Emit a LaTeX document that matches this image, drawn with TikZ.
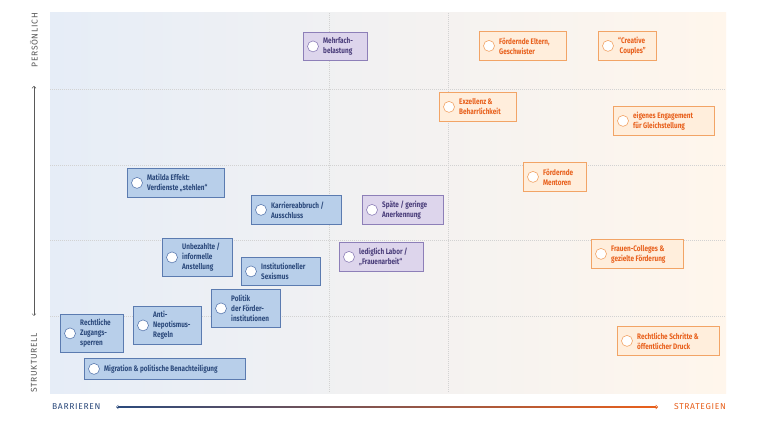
\documentclass[tikz,border=0pt]{standalone}
\usetikzlibrary{arrows.meta}
\usepackage{fontspec}
\setmainfont{Fira Sans}
\newfontfamily\bxfont{Fira Sans}[FakeStretch=0.8]
\newfontfamily\axfont{Fira Sans}[LetterSpace=8]
\begin{document}
\begin{tikzpicture}[x=1pt,y=-1pt,
  lbl/.style={font=\bxfont\bfseries\fontsize{8}{10}\selectfont,align=left,anchor=west,inner sep=0},
  bblue/.style={fill=blueF,draw=blueD,line width=0.8pt},
  bpurp/.style={fill=purpF,draw=purpD,line width=0.8pt},
  borng/.style={fill=orngF,draw=orngD,line width=0.8pt},
  axlbl/.style={font=\axfont\fontsize{8.5}{9}\selectfont,inner sep=0}]
\definecolor{blueF}{HTML}{B8CFEA}\definecolor{blueD}{HTML}{5B7BB0}\definecolor{blueT}{HTML}{2C4A7C}
\definecolor{purpF}{HTML}{DDD5EC}\definecolor{purpD}{HTML}{8D7FB8}\definecolor{purpT}{HTML}{4A3D7A}
\definecolor{orngF}{HTML}{FFEEDC}\definecolor{orngD}{HTML}{F2A466}\definecolor{orngT}{HTML}{E8601C}
\definecolor{bgL}{HTML}{E6EDF7}\definecolor{bgM}{HTML}{F3F2F0}\definecolor{bgR}{HTML}{FFF6EC}
\useasboundingbox (0,0) rectangle (760,427);
\fill[white] (0,0) rectangle (760,427);
\shade[left color=bgL,middle color=bgM,right color=bgR] (50,13) rectangle (726,393);
\foreach \x in {329,448} \draw[gray!35,dash pattern=on 1pt off 1pt,line width=0.5pt] (\x,13) -- (\x,393);
\foreach \y in {89,165,240,316} \draw[gray!35,dash pattern=on 1pt off 1pt,line width=0.5pt] (50,\y) -- (726,\y);
% axes
\node[axlbl,text=blueT,anchor=west] (bar) at (52,407) {BARRIEREN};
\node[axlbl,text=orngT,anchor=east] (str) at (726,407) {STRATEGIEN};
\shade[left color=blueT,right color=orngT] (118,406.7) rectangle (656,407.3);
\coordinate (hl) at (116,407); \coordinate (hr) at (658,407);
\draw[blueT,line width=0.5pt,-{Straight Barb[length=2pt]}] (130,407) -- (hl);
\draw[orngT,line width=0.5pt,-{Straight Barb[length=2pt]}] (640,407) -- (hr);
\node[axlbl,text=gray!70!black,rotate=90,anchor=east] (per) at (34,13) {PERSÖNLICH};
\node[axlbl,text=gray!70!black,rotate=90,anchor=west] (stk) at (34,393) {STRUKTURELL};
\coordinate (vt) at (34,86); \coordinate (vb) at (34,316);
\draw[gray!70!black,line width=0.5pt,{Straight Barb[length=2pt]}-{Straight Barb[length=2pt]}] (vt) -- (vb);
% boxes
\newcommand\bxx[8]{%
  \node[#6,minimum width=#4-#2,minimum height=#5-#3,inner sep=0,anchor=north west] (#1) at (#2,#3) {};
  \node[circle,fill=white,draw=#7D,line width=0.6pt,minimum size=11pt,inner sep=0] (#1c) at ([xshift=10pt]#1.west) {};
  \node[lbl,text=#7T] (#1t) at ([xshift=20pt]#1.west) {#8};
}
\bxx{a}{303}{32}{367}{60}{bpurp}{purp}{Mehrfach-\\belastung}
\bxx{b}{479}{31}{566}{60}{borng}{orng}{Fördernde Eltern,\\Geschwister}
\bxx{c}{598}{31}{656}{60}{borng}{orng}{“Creative\\\ Couples”}
\bxx{d}{439}{92}{516}{121}{borng}{orng}{Exzellenz \&\\Beharrlichkeit}
\bxx{e}{613}{106}{714}{135}{borng}{orng}{eigenes Engagement\\für Gleichstellung}
\bxx{f}{523}{162}{586}{191}{borng}{orng}{Fördernde\\Mentoren}
\bxx{g}{127}{168}{224}{197}{bblue}{blue}{Matilda Effekt:\\Verdienste „stehlen“}
\bxx{h}{251}{195}{341}{224}{bblue}{blue}{Karriereabbruch /\\Ausschluss}
\bxx{i}{362}{195}{443}{224}{bpurp}{purp}{Späte / geringe\\Anerkennung}
\bxx{j}{162}{238}{232}{276}{bblue}{blue}{Unbezahlte /\\informelle\\Anstellung}
\bxx{k}{241}{257}{320}{285}{bblue}{blue}{Institutioneller\\Sexismus}
\bxx{l}{339}{242}{423}{271}{bpurp}{purp}{lediglich Labor /\\„Frauenarbeit“}
\bxx{m}{591}{239}{683}{268}{borng}{orng}{Frauen-Colleges \&\\gezielte Förderung}
\bxx{n}{211}{289}{280}{327}{bblue}{blue}{Politik\\der Förder-\\institutionen}
\bxx{o}{133}{306}{201}{344}{bblue}{blue}{Anti-\\Nepotismus-\\Regeln}
\bxx{p}{60}{314}{123}{352}{bblue}{blue}{Rechtliche\\Zugangs-\\sperren}
\bxx{q}{84}{358}{245}{379}{bblue}{blue}{Migration \& politische Benachteiligung}
\bxx{r}{617}{326}{719}{355}{borng}{orng}{Rechtliche Schritte \&\\öffentlicher Druck}
\end{tikzpicture}
\end{document}
